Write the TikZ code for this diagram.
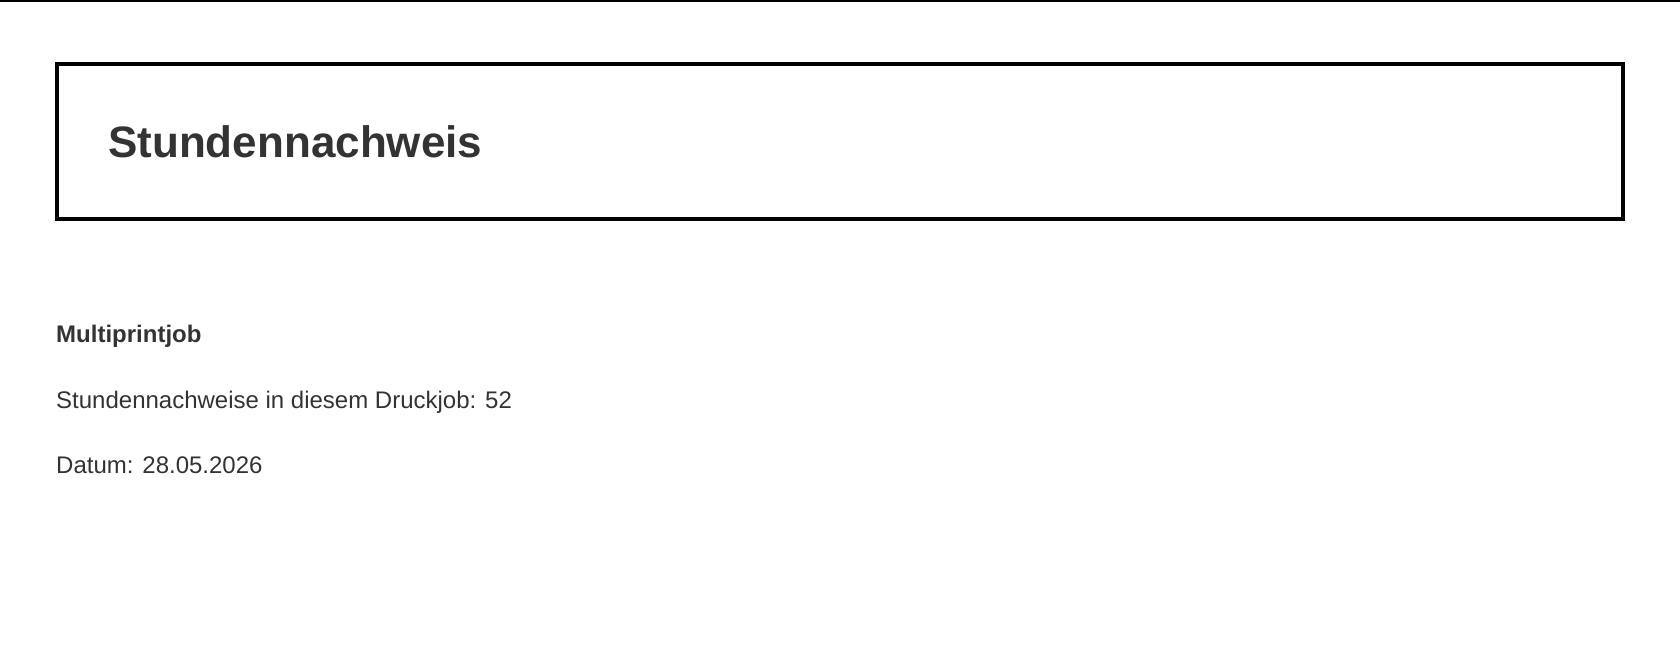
\documentclass[tikz,border=0pt]{standalone}
\usepackage{fontspec}
\setmainfont{Liberation Sans}
\usetikzlibrary{positioning}
\definecolor{textgrey}{HTML}{333333}
\begin{document}
\begin{tikzpicture}[x=1pt,y=1pt]
        \tikzstyle{line}=[anchor=base west,inner sep=0pt,text=textgrey,font=\fontsize{24}{28}\selectfont]
        \useasboundingbox (0,0) rectangle (1680,654);
        \draw[line width=2pt] (0,653) -- (1680,653);
        \draw[line width=4pt] (57,590) rectangle (1623,435);
        \node[line,font=\bfseries\fontsize{44}{52}\selectfont] (title) at (108,496) {Stundennachweis};
        \node[line,font=\bfseries\fontsize{24}{28}\selectfont] (job) at (56,312) {Multiprintjob};
        \node[line] (count) at (56,246) {Stundennachweise in diesem Druckjob: 52};
        \node[line] (date) at (56,181) {Datum: 28.05.2026};
    \end{tikzpicture}
\end{document}
